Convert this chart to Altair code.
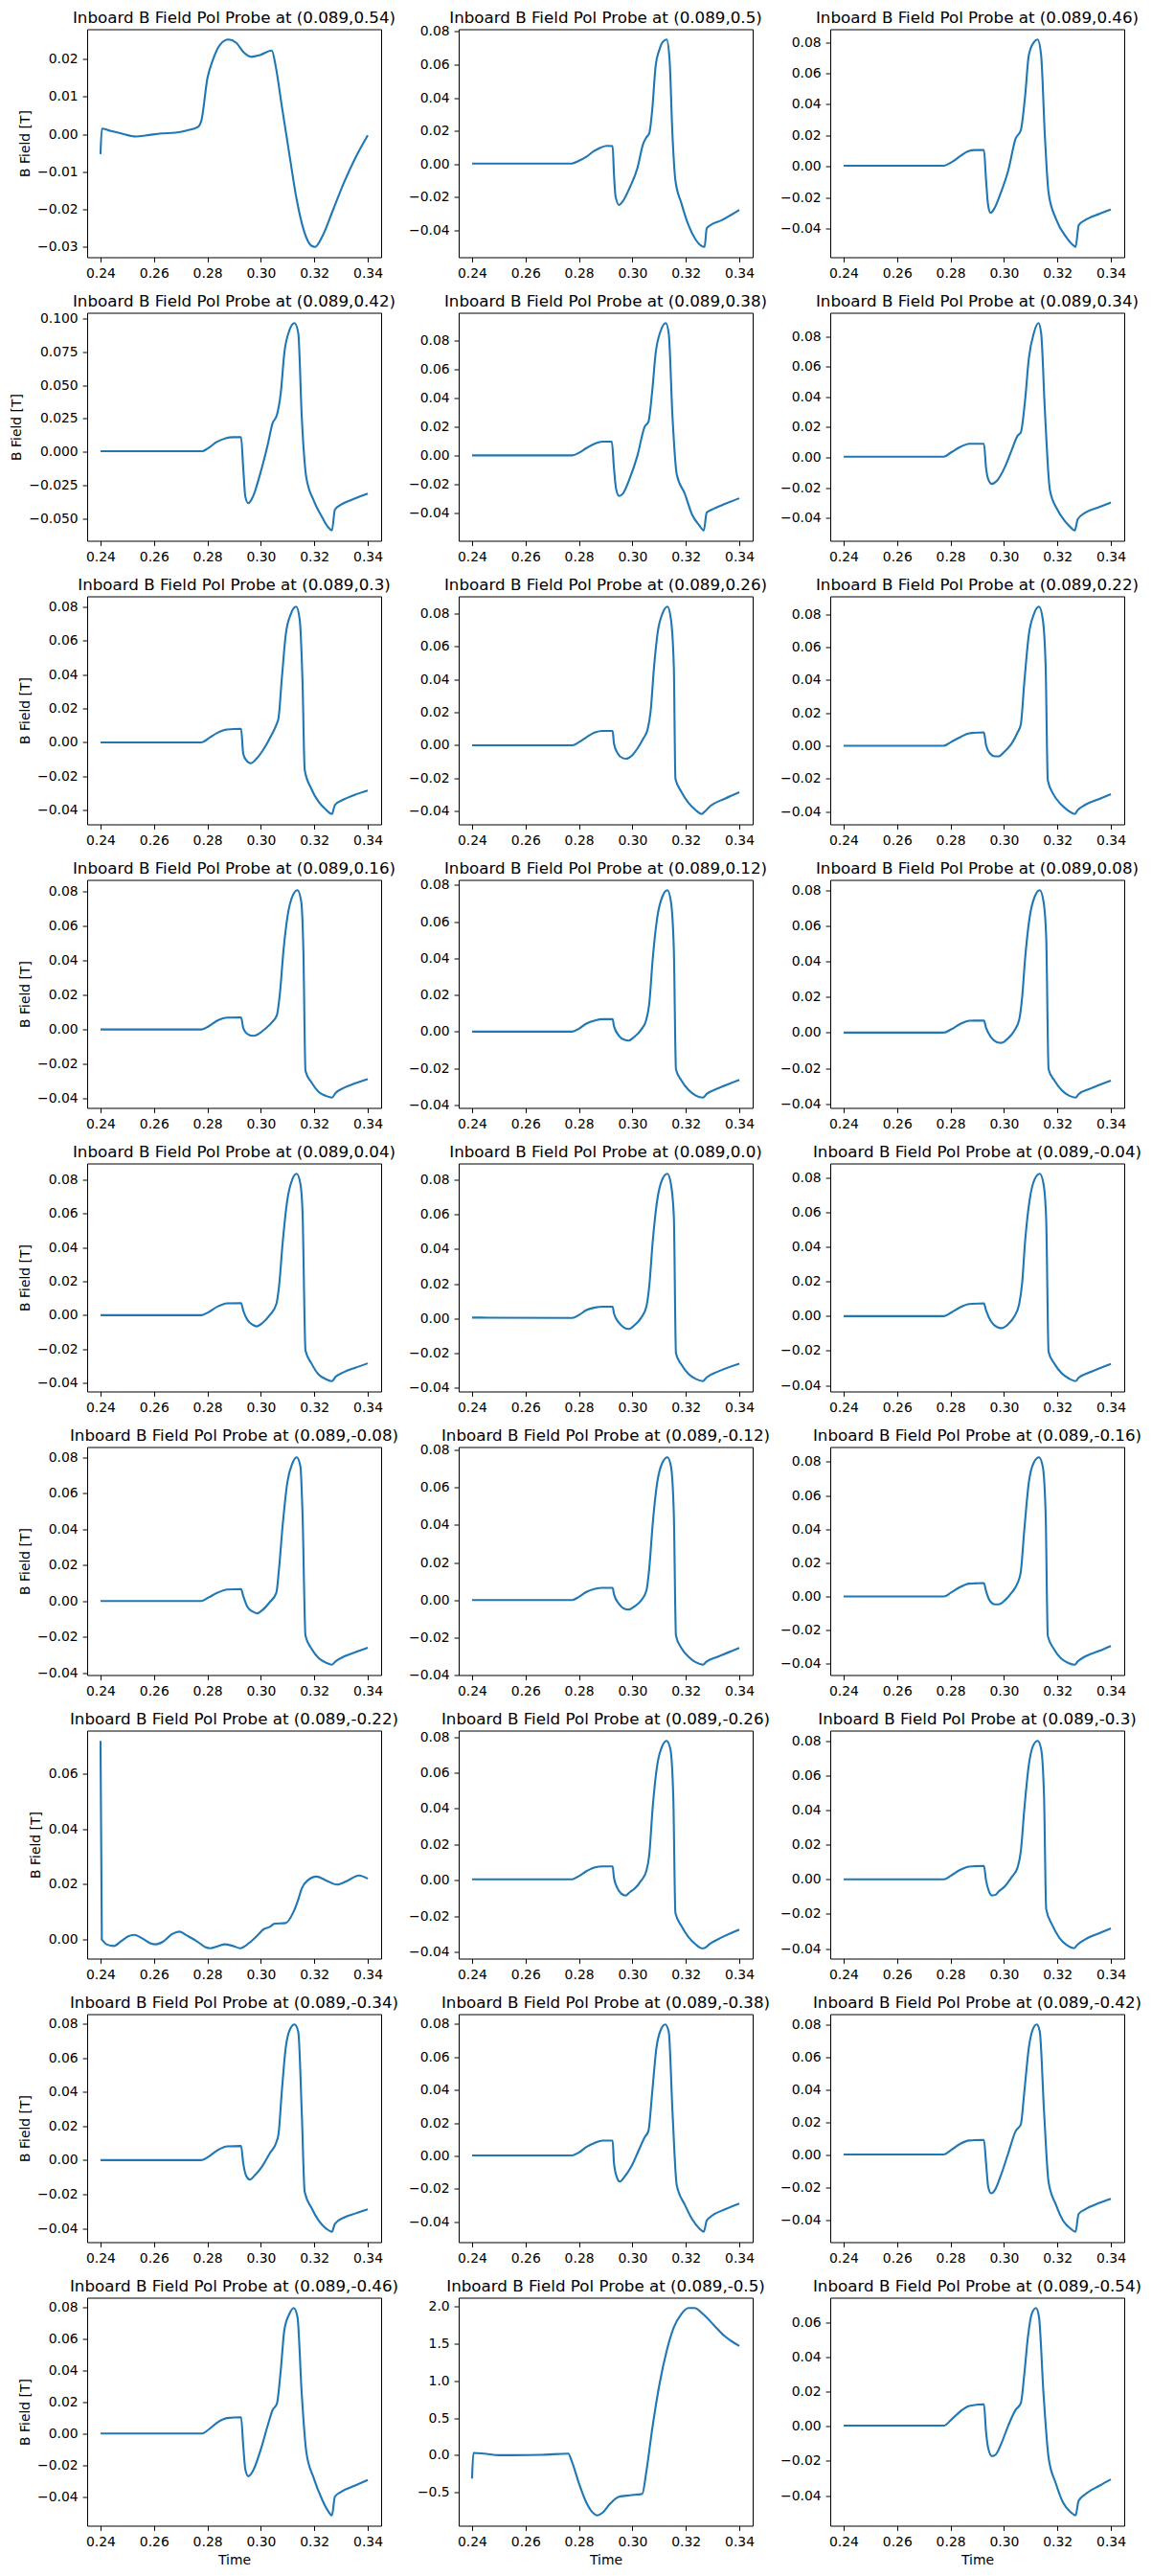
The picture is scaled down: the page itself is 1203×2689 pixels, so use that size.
import math
import altair as alt
import pandas as pd

# Probe vertical positions (panel order, left-to-right, top-to-bottom)
PROBE_Z = ["0.54", "0.5", "0.46", "0.42", "0.38", "0.34", "0.3", "0.26", "0.22",
           "0.16", "0.12", "0.08", "0.04", "0.0", "-0.04", "-0.08", "-0.12", "-0.16",
           "-0.22", "-0.26", "-0.3", "-0.34", "-0.38", "-0.42", "-0.46", "-0.5", "-0.54"]

# y tick step of each panel
Y_STEP = [0.01, 0.02, 0.02, 0.025, 0.02, 0.02, 0.02, 0.02, 0.02,
          0.02, 0.02, 0.02, 0.02, 0.02, 0.02, 0.02, 0.02, 0.02,
          0.02, 0.02, 0.02, 0.02, 0.02, 0.02, 0.02, 0.5, 0.02]

X_TICKS = [0.24, 0.26, 0.28, 0.30, 0.32, 0.34]

t01 = [0.2400, 0.2405, 0.2436, 0.2477, 0.2532, 0.2573, 0.2627, 0.2680, 0.2723, 0.2764, 0.2778, 0.2800, 0.2819, 0.2847, 0.2879, 0.2907, 0.2937, 0.2964, 0.2997, 0.3041, 0.3055, 0.3079, 0.3107, 0.3134, 0.3162, 0.3189, 0.3203, 0.3230, 0.3271, 0.3312, 0.3353, 0.3400]
b01 = [-0.0053, 0.0015, 0.0009, 0.0002, -0.0006, -0.0003, 0.0002, 0.0004, 0.0010, 0.0019, 0.0038, 0.0149, 0.0195, 0.0238, 0.0252, 0.0244, 0.0217, 0.0206, 0.0211, 0.0223, 0.0183, 0.0072, -0.0055, -0.0174, -0.0259, -0.0297, -0.0300, -0.0272, -0.0200, -0.0127, -0.0064, -0.0003]

t02 = [0.2400, 0.2773, 0.2800, 0.2828, 0.2855, 0.2882, 0.2904, 0.2926, 0.2931, 0.2937, 0.2950, 0.2964, 0.2991, 0.3019, 0.3040, 0.3052, 0.3063, 0.3074, 0.3087, 0.3101, 0.3114, 0.3128, 0.3139, 0.3150, 0.3161, 0.3183, 0.3210, 0.3237, 0.3259, 0.3270, 0.3278, 0.3291, 0.3332, 0.3400]
b02 = [0.0003, 0.0003, 0.0020, 0.0044, 0.0077, 0.0100, 0.0110, 0.0108, -0.0062, -0.0196, -0.0247, -0.0225, -0.0139, -0.0023, 0.0121, 0.0160, 0.0185, 0.0324, 0.0593, 0.0690, 0.0738, 0.0751, 0.0630, 0.0170, -0.0100, -0.0235, -0.0370, -0.0457, -0.0495, -0.0500, -0.0389, -0.0370, -0.0341, -0.0277]

t03 = [0.2400, 0.2775, 0.2802, 0.2837, 0.2865, 0.2892, 0.2925, 0.2933, 0.2941, 0.2950, 0.2963, 0.2988, 0.3016, 0.3044, 0.3063, 0.3079, 0.3093, 0.3112, 0.3126, 0.3139, 0.3153, 0.3167, 0.3194, 0.3235, 0.3262, 0.3268, 0.3280, 0.3303, 0.3357, 0.3400]
b03 = [0.0004, 0.0004, 0.0025, 0.0066, 0.0097, 0.0105, 0.0105, -0.0089, -0.0254, -0.0300, -0.0275, -0.0172, -0.0027, 0.0180, 0.0232, 0.0450, 0.0717, 0.0800, 0.0817, 0.0717, 0.0200, -0.0172, -0.0337, -0.0461, -0.0513, -0.0519, -0.0378, -0.0347, -0.0306, -0.0279]

t04 = [0.2400, 0.2780, 0.2800, 0.2833, 0.2868, 0.2896, 0.2926, 0.2934, 0.2942, 0.2953, 0.2970, 0.2997, 0.3025, 0.3044, 0.3060, 0.3074, 0.3088, 0.3107, 0.3126, 0.3140, 0.3153, 0.3170, 0.3197, 0.3230, 0.3252, 0.3266, 0.3277, 0.3299, 0.3353, 0.3400]
b04 = [0.0005, 0.0005, 0.0024, 0.0072, 0.0103, 0.0110, 0.0110, -0.0120, -0.0337, -0.0385, -0.0337, -0.0168, 0.0048, 0.0216, 0.0276, 0.0433, 0.0745, 0.0913, 0.0966, 0.0890, 0.0264, -0.0192, -0.0361, -0.0493, -0.0565, -0.0589, -0.0433, -0.0397, -0.0349, -0.0313]

t05 = [0.2400, 0.2775, 0.2800, 0.2828, 0.2860, 0.2888, 0.2923, 0.2931, 0.2939, 0.2950, 0.2964, 0.2991, 0.3019, 0.3046, 0.3060, 0.3074, 0.3087, 0.3106, 0.3125, 0.3136, 0.3150, 0.3166, 0.3196, 0.3223, 0.3251, 0.3267, 0.3278, 0.3297, 0.3346, 0.3400]
b05 = [0.0, 0.0, 0.0018, 0.0051, 0.0083, 0.0096, 0.0096, -0.0089, -0.0235, -0.0284, -0.0268, -0.0156, 0.0000, 0.0201, 0.0235, 0.0447, 0.0715, 0.0872, 0.0925, 0.0851, 0.0268, -0.0134, -0.0268, -0.0413, -0.0492, -0.0525, -0.0400, -0.0380, -0.0340, -0.0300]

t06 = [0.2400, 0.2775, 0.2802, 0.2837, 0.2870, 0.2925, 0.2933, 0.2941, 0.2955, 0.2974, 0.3002, 0.3029, 0.3051, 0.3063, 0.3079, 0.3093, 0.3112, 0.3129, 0.3139, 0.3153, 0.3172, 0.3200, 0.3227, 0.3249, 0.3265, 0.3276, 0.3303, 0.3357, 0.3400]
b06 = [0.0005, 0.0005, 0.0034, 0.0070, 0.0091, 0.0091, -0.0068, -0.0142, -0.0174, -0.0153, -0.0068, 0.0049, 0.0144, 0.0165, 0.0378, 0.0653, 0.0823, 0.0887, 0.0823, 0.0314, -0.0216, -0.0344, -0.0418, -0.0460, -0.0481, -0.0407, -0.0365, -0.0327, -0.0297]

t07 = [0.2400, 0.2778, 0.2805, 0.2838, 0.2874, 0.2926, 0.2934, 0.2945, 0.2962, 0.2984, 0.3011, 0.3038, 0.3058, 0.3066, 0.3079, 0.3093, 0.3112, 0.3132, 0.3145, 0.3156, 0.3164, 0.3189, 0.3216, 0.3244, 0.3266, 0.3277, 0.3312, 0.3353, 0.3400]
b07 = [0.0, 0.0, 0.0025, 0.0057, 0.0076, 0.0080, -0.0066, -0.0104, -0.0123, -0.0095, -0.0038, 0.0038, 0.0104, 0.0142, 0.0388, 0.0633, 0.0756, 0.0800, 0.0728, 0.0350, -0.0161, -0.0274, -0.0350, -0.0397, -0.0422, -0.0369, -0.0335, -0.0308, -0.0284]

t08 = [0.2400, 0.2775, 0.2800, 0.2828, 0.2860, 0.2888, 0.2926, 0.2931, 0.2945, 0.2964, 0.2977, 0.2997, 0.3019, 0.3040, 0.3057, 0.3068, 0.3081, 0.3095, 0.3114, 0.3131, 0.3144, 0.3155, 0.3161, 0.3183, 0.3210, 0.3237, 0.3259, 0.3267, 0.3291, 0.3346, 0.3400]
b08 = [0.0, 0.0, 0.0019, 0.0049, 0.0078, 0.0087, 0.0087, 0.0010, -0.0049, -0.0078, -0.0082, -0.0064, -0.0019, 0.0039, 0.0097, 0.0204, 0.0476, 0.0689, 0.0806, 0.0841, 0.0767, 0.0476, -0.0204, -0.0282, -0.0350, -0.0394, -0.0417, -0.0408, -0.0369, -0.0324, -0.0285]

t09 = [0.2400, 0.2775, 0.2802, 0.2837, 0.2870, 0.2925, 0.2933, 0.2947, 0.2966, 0.2980, 0.3002, 0.3029, 0.3051, 0.3063, 0.3076, 0.3093, 0.3112, 0.3131, 0.3145, 0.3156, 0.3164, 0.3186, 0.3213, 0.3241, 0.3265, 0.3276, 0.3303, 0.3357, 0.3400]
b09 = [0.0, 0.0, 0.0023, 0.0053, 0.0076, 0.0082, 0.0004, -0.0045, -0.0064, -0.0064, -0.0035, 0.0014, 0.0082, 0.0130, 0.0384, 0.0676, 0.0802, 0.0847, 0.0773, 0.0481, -0.0210, -0.0298, -0.0356, -0.0395, -0.0415, -0.0391, -0.0360, -0.0323, -0.0294]

t10 = [0.2400, 0.2778, 0.2805, 0.2838, 0.2874, 0.2926, 0.2934, 0.2948, 0.2970, 0.2989, 0.3016, 0.3044, 0.3060, 0.3071, 0.3085, 0.3101, 0.3120, 0.3137, 0.3151, 0.3159, 0.3167, 0.3189, 0.3216, 0.3244, 0.3266, 0.3280, 0.3312, 0.3353, 0.3400]
b10 = [0.0, 0.0, 0.0019, 0.0052, 0.0069, 0.0070, 0.0009, -0.0024, -0.0037, -0.0028, 0.0004, 0.0046, 0.0083, 0.0204, 0.0463, 0.0667, 0.0778, 0.0806, 0.0741, 0.0463, -0.0241, -0.0306, -0.0361, -0.0385, -0.0394, -0.0367, -0.0337, -0.0311, -0.0287]

t11 = [0.2400, 0.2775, 0.2800, 0.2828, 0.2860, 0.2888, 0.2926, 0.2931, 0.2950, 0.2969, 0.2986, 0.3005, 0.3032, 0.3052, 0.3063, 0.3076, 0.3093, 0.3112, 0.3131, 0.3144, 0.3155, 0.3163, 0.3183, 0.3210, 0.3237, 0.3264, 0.3278, 0.3319, 0.3400]
b11 = [0.0, 0.0, 0.0016, 0.0044, 0.0061, 0.0068, 0.0068, 0.0030, -0.0023, -0.0044, -0.0049, -0.0031, 0.0009, 0.0065, 0.0152, 0.0397, 0.0624, 0.0737, 0.0772, 0.0711, 0.0449, -0.0206, -0.0266, -0.0319, -0.0349, -0.0360, -0.0340, -0.0311, -0.0264]

t12 = [0.2400, 0.2775, 0.2802, 0.2837, 0.2870, 0.2925, 0.2933, 0.2952, 0.2974, 0.2990, 0.3016, 0.3038, 0.3057, 0.3068, 0.3079, 0.3096, 0.3115, 0.3134, 0.3148, 0.3158, 0.3167, 0.3189, 0.3216, 0.3243, 0.3268, 0.3280, 0.3323, 0.3400]
b12 = [0.0, 0.0, 0.0018, 0.0049, 0.0067, 0.0068, 0.0027, -0.0027, -0.0054, -0.0058, -0.0032, 0.0009, 0.0072, 0.0198, 0.0414, 0.0647, 0.0764, 0.0800, 0.0737, 0.0540, -0.0207, -0.0270, -0.0324, -0.0354, -0.0365, -0.0345, -0.0315, -0.0270]

t13 = [0.2400, 0.2778, 0.2805, 0.2838, 0.2874, 0.2926, 0.2934, 0.2950, 0.2970, 0.2984, 0.3005, 0.3033, 0.3058, 0.3068, 0.3082, 0.3099, 0.3118, 0.3134, 0.3148, 0.3156, 0.3167, 0.3189, 0.3216, 0.3244, 0.3266, 0.3280, 0.3312, 0.3353, 0.3400]
b13 = [0.0, 0.0, 0.0019, 0.0051, 0.0070, 0.0072, 0.0028, -0.0028, -0.0057, -0.0066, -0.0047, 0.0000, 0.0066, 0.0170, 0.0435, 0.0680, 0.0803, 0.0835, 0.0775, 0.0605, -0.0208, -0.0284, -0.0350, -0.0378, -0.0389, -0.0363, -0.0335, -0.0310, -0.0284]

t14 = [0.2400, 0.2775, 0.2800, 0.2828, 0.2860, 0.2888, 0.2926, 0.2931, 0.2950, 0.2969, 0.2986, 0.3008, 0.3032, 0.3052, 0.3063, 0.3076, 0.3093, 0.3112, 0.3131, 0.3144, 0.3155, 0.3163, 0.3183, 0.3210, 0.3237, 0.3264, 0.3278, 0.3319, 0.3400]
b14 = [0.0005, 0.0003, 0.0020, 0.0048, 0.0063, 0.0068, 0.0068, 0.0029, -0.0026, -0.0053, -0.0061, -0.0039, 0.0002, 0.0066, 0.0186, 0.0443, 0.0683, 0.0802, 0.0833, 0.0775, 0.0590, -0.0201, -0.0265, -0.0320, -0.0348, -0.0361, -0.0339, -0.0307, -0.0261]

t15 = [0.2400, 0.2775, 0.2802, 0.2837, 0.2870, 0.2925, 0.2933, 0.2952, 0.2974, 0.2990, 0.3016, 0.3038, 0.3057, 0.3068, 0.3079, 0.3096, 0.3115, 0.3134, 0.3148, 0.3158, 0.3167, 0.3189, 0.3216, 0.3243, 0.3268, 0.3280, 0.3323, 0.3400]
b15 = [0.0, 0.0, 0.0020, 0.0052, 0.0070, 0.0074, 0.0033, -0.0031, -0.0063, -0.0069, -0.0046, -0.0004, 0.0070, 0.0191, 0.0431, 0.0672, 0.0793, 0.0824, 0.0765, 0.0561, -0.0207, -0.0276, -0.0331, -0.0361, -0.0376, -0.0356, -0.0324, -0.0276]

t16 = [0.2400, 0.2778, 0.2805, 0.2838, 0.2874, 0.2926, 0.2934, 0.2950, 0.2970, 0.2986, 0.3005, 0.3033, 0.3058, 0.3068, 0.3082, 0.3099, 0.3118, 0.3134, 0.3148, 0.3156, 0.3167, 0.3189, 0.3216, 0.3244, 0.3266, 0.3280, 0.3312, 0.3353, 0.3400]
b16 = [0.0, 0.0, 0.0020, 0.0046, 0.0064, 0.0066, 0.0028, -0.0034, -0.0060, -0.0069, -0.0052, -0.0007, 0.0046, 0.0180, 0.0428, 0.0660, 0.0767, 0.0800, 0.0750, 0.0482, -0.0194, -0.0265, -0.0318, -0.0344, -0.0355, -0.0336, -0.0309, -0.0286, -0.0261]

t17 = [0.2400, 0.2775, 0.2800, 0.2828, 0.2860, 0.2888, 0.2926, 0.2931, 0.2950, 0.2969, 0.2986, 0.3008, 0.3032, 0.3052, 0.3063, 0.3076, 0.3093, 0.3112, 0.3131, 0.3144, 0.3155, 0.3163, 0.3183, 0.3210, 0.3237, 0.3264, 0.3278, 0.3319, 0.3400]
b17 = [0.0, 0.0, 0.0017, 0.0043, 0.0060, 0.0065, 0.0065, 0.0031, -0.0021, -0.0046, -0.0051, -0.0034, -0.0003, 0.0048, 0.0168, 0.0407, 0.0629, 0.0732, 0.0761, 0.0715, 0.0458, -0.0191, -0.0256, -0.0303, -0.0332, -0.0345, -0.0328, -0.0303, -0.0256]

t18 = [0.2400, 0.2775, 0.2802, 0.2837, 0.2870, 0.2925, 0.2933, 0.2947, 0.2966, 0.2980, 0.3002, 0.3029, 0.3051, 0.3063, 0.3076, 0.3093, 0.3112, 0.3131, 0.3145, 0.3156, 0.3164, 0.3186, 0.3213, 0.3241, 0.3265, 0.3276, 0.3303, 0.3357, 0.3400]
b18 = [0.0, 0.0, 0.0023, 0.0057, 0.0076, 0.0080, 0.0032, -0.0025, -0.0047, -0.0047, -0.0025, 0.0023, 0.0080, 0.0146, 0.0393, 0.0678, 0.0796, 0.0826, 0.0773, 0.0488, -0.0234, -0.0310, -0.0367, -0.0395, -0.0405, -0.0386, -0.0357, -0.0323, -0.0294]

t19 = [0.2400, 0.2405, 0.2408, 0.2422, 0.2449, 0.2477, 0.2504, 0.2526, 0.2559, 0.2586, 0.2608, 0.2633, 0.2668, 0.2696, 0.2723, 0.2764, 0.2792, 0.2811, 0.2838, 0.2866, 0.2896, 0.2923, 0.2956, 0.2984, 0.3011, 0.3033, 0.3052, 0.3093, 0.3121, 0.3140, 0.3153, 0.3175, 0.3208, 0.3244, 0.3285, 0.3326, 0.3367, 0.3400]
b19 = [0.0718, 0.0000, -0.0003, -0.0017, -0.0023, -0.0006, 0.0012, 0.0017, 0.0003, -0.0013, -0.0017, -0.0008, 0.0020, 0.0029, 0.0015, -0.0008, -0.0027, -0.0031, -0.0024, -0.0017, -0.0023, -0.0031, -0.0012, 0.0012, 0.0038, 0.0046, 0.0058, 0.0060, 0.0098, 0.0145, 0.0185, 0.0214, 0.0228, 0.0214, 0.0199, 0.0214, 0.0232, 0.0220]

t20 = [0.2400, 0.2775, 0.2800, 0.2828, 0.2860, 0.2888, 0.2926, 0.2931, 0.2942, 0.2958, 0.2975, 0.2991, 0.3008, 0.3032, 0.3052, 0.3063, 0.3076, 0.3093, 0.3112, 0.3128, 0.3142, 0.3153, 0.3161, 0.3183, 0.3210, 0.3237, 0.3259, 0.3267, 0.3291, 0.3332, 0.3400]
b20 = [0.0005, 0.0005, 0.0023, 0.0050, 0.0072, 0.0077, 0.0077, 0.0014, -0.0039, -0.0075, -0.0086, -0.0066, -0.0048, -0.0004, 0.0050, 0.0140, 0.0409, 0.0643, 0.0750, 0.0777, 0.0732, 0.0463, -0.0184, -0.0255, -0.0318, -0.0359, -0.0380, -0.0380, -0.0354, -0.0321, -0.0276]

t21 = [0.2400, 0.2775, 0.2802, 0.2837, 0.2870, 0.2925, 0.2933, 0.2944, 0.2955, 0.2969, 0.2980, 0.3002, 0.3029, 0.3051, 0.3063, 0.3076, 0.3093, 0.3109, 0.3126, 0.3139, 0.3150, 0.3158, 0.3181, 0.3208, 0.3235, 0.3262, 0.3276, 0.3303, 0.3357, 0.3400]
b21 = [0.0, 0.0, 0.0022, 0.0056, 0.0074, 0.0078, -0.0006, -0.0070, -0.0093, -0.0089, -0.0070, -0.0043, 0.0013, 0.0069, 0.0161, 0.0402, 0.0661, 0.0772, 0.0800, 0.0754, 0.0476, -0.0172, -0.0265, -0.0339, -0.0380, -0.0398, -0.0376, -0.0348, -0.0311, -0.0283]

t22 = [0.2400, 0.2778, 0.2805, 0.2838, 0.2874, 0.2926, 0.2934, 0.2945, 0.2959, 0.2978, 0.3005, 0.3033, 0.3058, 0.3066, 0.3079, 0.3093, 0.3110, 0.3126, 0.3140, 0.3153, 0.3164, 0.3189, 0.3216, 0.3244, 0.3266, 0.3277, 0.3312, 0.3353, 0.3400]
b22 = [0.0, 0.0, 0.0021, 0.0058, 0.0081, 0.0083, -0.0017, -0.0092, -0.0114, -0.0088, -0.0036, 0.0039, 0.0105, 0.0152, 0.0414, 0.0658, 0.0770, 0.0795, 0.0752, 0.0283, -0.0186, -0.0279, -0.0354, -0.0401, -0.0420, -0.0373, -0.0336, -0.0313, -0.0289]

t23 = [0.2400, 0.2775, 0.2800, 0.2828, 0.2860, 0.2888, 0.2926, 0.2931, 0.2942, 0.2953, 0.2969, 0.2997, 0.3024, 0.3046, 0.3060, 0.3074, 0.3090, 0.3106, 0.3123, 0.3136, 0.3150, 0.3166, 0.3196, 0.3223, 0.3251, 0.3267, 0.3278, 0.3297, 0.3346, 0.3400]
b23 = [0.0003, 0.0003, 0.0021, 0.0054, 0.0080, 0.0093, 0.0093, -0.0043, -0.0130, -0.0156, -0.0130, -0.0062, 0.0035, 0.0113, 0.0152, 0.0385, 0.0658, 0.0765, 0.0798, 0.0753, 0.0267, -0.0179, -0.0296, -0.0383, -0.0442, -0.0461, -0.0393, -0.0364, -0.0325, -0.0290]

t24 = [0.2400, 0.2775, 0.2802, 0.2837, 0.2870, 0.2925, 0.2933, 0.2941, 0.2952, 0.2966, 0.2988, 0.3016, 0.3044, 0.3063, 0.3076, 0.3093, 0.3107, 0.3123, 0.3134, 0.3150, 0.3167, 0.3194, 0.3221, 0.3249, 0.3268, 0.3279, 0.3303, 0.3357, 0.3400]
b24 = [0.0003, 0.0003, 0.0030, 0.0069, 0.0089, 0.0093, -0.0049, -0.0197, -0.0237, -0.0217, -0.0128, 0.0010, 0.0148, 0.0188, 0.0385, 0.0661, 0.0770, 0.0804, 0.0760, 0.0267, -0.0168, -0.0306, -0.0405, -0.0454, -0.0474, -0.0365, -0.0336, -0.0296, -0.0270]

t25 = [0.2400, 0.2780, 0.2805, 0.2838, 0.2874, 0.2926, 0.2934, 0.2942, 0.2953, 0.2970, 0.2997, 0.3025, 0.3044, 0.3060, 0.3074, 0.3088, 0.3107, 0.3123, 0.3137, 0.3153, 0.3170, 0.3197, 0.3230, 0.3252, 0.3266, 0.3277, 0.3299, 0.3353, 0.3400]
b25 = [0.0, 0.0, 0.0026, 0.0071, 0.0098, 0.0104, -0.0075, -0.0228, -0.0271, -0.0238, -0.0116, 0.0047, 0.0149, 0.0189, 0.0393, 0.0658, 0.0760, 0.0796, 0.0739, 0.0250, -0.0116, -0.0279, -0.0422, -0.0493, -0.0519, -0.0401, -0.0371, -0.0330, -0.0295]

t26 = [0.2400, 0.2405, 0.2446, 0.2501, 0.2555, 0.2664, 0.2760, 0.2773, 0.2800, 0.2828, 0.2850, 0.2869, 0.2888, 0.2915, 0.2950, 0.2991, 0.3037, 0.3051, 0.3074, 0.3101, 0.3128, 0.3155, 0.3183, 0.3210, 0.3232, 0.3264, 0.3305, 0.3346, 0.3400]
b26 = [-0.315, 0.030, 0.020, 0.000, 0.000, 0.005, 0.020, -0.080, -0.380, -0.640, -0.767, -0.810, -0.776, -0.660, -0.560, -0.540, -0.520, -0.250, 0.350, 0.950, 1.400, 1.720, 1.900, 1.980, 1.980, 1.900, 1.750, 1.600, 1.470]

t27 = [0.2400, 0.2775, 0.2802, 0.2837, 0.2870, 0.2925, 0.2933, 0.2941, 0.2955, 0.2969, 0.2988, 0.3016, 0.3044, 0.3063, 0.3076, 0.3090, 0.3104, 0.3120, 0.3131, 0.3148, 0.3167, 0.3194, 0.3221, 0.3249, 0.3268, 0.3279, 0.3303, 0.3357, 0.3400]
b27 = [0.0004, 0.0004, 0.0037, 0.0087, 0.0118, 0.0127, -0.0033, -0.0126, -0.0172, -0.0163, -0.0107, 0.0004, 0.0096, 0.0133, 0.0299, 0.0521, 0.0650, 0.0683, 0.0632, 0.0188, -0.0181, -0.0329, -0.0440, -0.0495, -0.0514, -0.0431, -0.0394, -0.0343, -0.0306]

TIMES = [t01, t02, t03, t04, t05, t06, t07, t08, t09, t10, t11, t12, t13, t14,
         t15, t16, t17, t18, t19, t20, t21, t22, t23, t24, t25, t26, t27]
FIELDS = [b01, b02, b03, b04, b05, b06, b07, b08, b09, b10, b11, b12, b13, b14,
          b15, b16, b17, b18, b19, b20, b21, b22, b23, b24, b25, b26, b27]

FONT = "DejaVu Sans"
PW, PH = 307, 238
TITLE_GAP = 6.6  # px between plot top and title baseline


def fmt_for(step):
    if step >= 0.5:
        return ".1f"
    if step == 0.025:
        return ".3f"
    return ".2f"


def panel(i):
    t, b = TIMES[i], FIELDS[i]
    df = pd.DataFrame({"t": t, "b": b})
    lo, hi = min(b), max(b)
    r = hi - lo
    ydom = [lo - 0.05 * r, hi + 0.05 * r]
    step = Y_STEP[i]
    k0 = math.ceil(ydom[0] / step - 1e-9)
    k1 = math.floor(ydom[1] / step + 1e-9)
    yticks = [round(k * step, 4) + 0.0 for k in range(k0, k1 + 1)]
    col, row = i % 3, i // 3

    y_title = "B Field [T]" if col == 0 else None
    x_title = "Time" if row == 8 else None

    line = (
        alt.Chart(df)
        .mark_line(color="#1f77b4", strokeWidth=2.1, interpolate="monotone")
        .encode(
            x=alt.X("t:Q", title=x_title,
                    scale=alt.Scale(domain=[0.235, 0.345], nice=False, zero=False),
                    axis=alt.Axis(values=X_TICKS, format=".2f", grid=False)),
            y=alt.Y("b:Q", title=y_title,
                    scale=alt.Scale(domain=ydom, nice=False, zero=False),
                    axis=alt.Axis(values=yticks, format=fmt_for(step), grid=False)),
        )
    )
    # panel title, centred above the frame
    title = (
        alt.Chart(pd.DataFrame({"label": [f"Inboard B Field Pol Probe at (0.089,{PROBE_Z[i]})"]}))
        .mark_text(font=FONT, fontSize=16.7, color="black", align="center",
                   baseline="alphabetic")
        .encode(text="label:N", x=alt.value(PW / 2), y=alt.value(-TITLE_GAP))
    )
    return alt.layer(line, title).properties(width=PW, height=PH)


chart = (
    alt.concat(*[panel(i) for i in range(27)], columns=3,
               spacing={"row": 58, "column": 81}, bounds="flush")
    .properties(padding={"left": 1, "top": 1.5, "right": 0, "bottom": 0},
                background="white")
    .configure_view(stroke="black", strokeWidth=1)
    .configure_axis(
        domain=False, grid=False,
        tickColor="black", tickWidth=1, tickSize=4.9,
        labelPadding=4.9, labelFont=FONT, labelFontSize=13.9, labelColor="black",
        labelFlush=False, labelOverlap=False,
        titleFont=FONT, titleFontSize=13.9, titleFontWeight="normal",
        titleColor="black", titlePadding=5.5,
    )
)

chart.save("out.html", embed_options={"renderer": "svg", "actions": False})
